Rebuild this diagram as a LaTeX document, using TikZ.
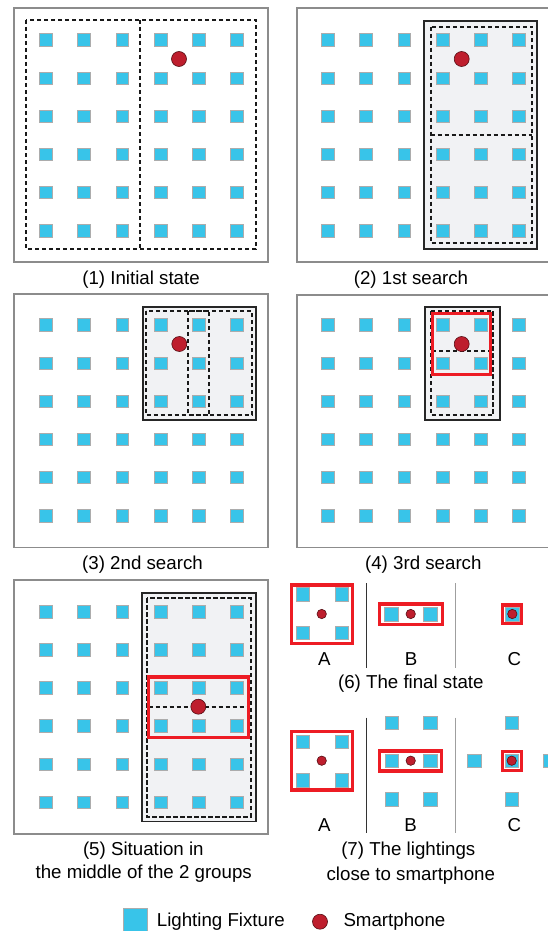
\documentclass[tikz,border=0pt]{standalone}
\usepackage{fontspec}
\setmainfont{Liberation Sans}
\usetikzlibrary{positioning}
\definecolor{lampblue}{RGB}{56,196,233}
\definecolor{phonered}{RGB}{190,30,45}
\definecolor{hitred}{RGB}{237,28,36}
\definecolor{roomgray}{RGB}{241,242,244}
\definecolor{framegray}{RGB}{140,140,140}

\tikzset{
  lamp/.style={rectangle, draw=gray!65, line width=0.5pt, fill=lampblue, minimum size=12.6pt, inner sep=0pt},
  biglamp/.style={lamp, minimum size=13.6pt},
  phone/.style={circle, draw=black!55!phonered, line width=0.6pt, fill=phonered, minimum size=15pt, inner sep=0pt},
  smallphone/.style={phone, minimum size=9.4pt},
  room/.style={draw=framegray, line width=1.8pt},
  group/.style={draw=black!85, line width=1.8pt, fill=roomgray},
  half/.style={draw=black!90, line width=1.7pt, dash pattern=on 4.2pt off 2.8pt},
  hit/.style={draw=hitred, line width=3.2pt},
  sep/.style={draw=black!80, line width=0.8pt},
  caption/.style={font=\fontsize{18.7}{22}\selectfont, anchor=base, inner sep=0pt},
}

% 6x6 grid of fixtures, #1 name, (#2,#3) first centre
\newcommand{\roomlamps}[3]{%
  \foreach \c in {0,...,5}
    \foreach \r in {0,...,5}
      \node[lamp] (#1-\c-\r) at ({#2+38.26*\c},{#3+38.1*\r}) {};
}

\begin{document}
\begin{tikzpicture}[x=1pt,y=-1pt]
  \clip (0,0) rectangle (548,931);

  % (1)
  \draw[room] (14,8) rectangle (268,262);
  \roomlamps{a}{45.7}{40}
  \draw[half] (26,20) rectangle (256,249) (140,20) -- (140,249);
  \node[phone] (p1) at (179,59) {};
  \node[caption] (cap1) at (141,284.5) {(1) Initial state};

  % (2)
  \draw[room] (296.6,8) rectangle (552,262);
  \draw[group] (424.2,21) rectangle (537,249);
  \roomlamps{b}{327.7}{40}
  \draw[half] (430.7,26.7) rectangle (532.3,242.7) (430.7,135) -- (532.3,135);
  \node[phone] (p2) at (461.7,59) {};
  \node[caption] (cap2) at (411,284.5) {(2) 1st search};

  % (3)
  \draw[room] (14,294.3) rectangle (268,547.4);
  \draw[group] (142.6,307) rectangle (255.8,420);
  \roomlamps{c}{45.7}{325}
  \draw[half] (145.7,311) rectangle (251.7,415);
  \draw[half] (188.3,311) rectangle (209.3,415);
  \node[phone] (p3) at (179.3,344) {};
  \node[caption] (cap3) at (142.5,569.3) {(3) 2nd search};

  % (4)
  \draw[room] (296.6,295) rectangle (552,547.4);
  \draw[group] (425.2,307) rectangle (499.8,420);
  \roomlamps{d}{327.7}{325}
  \draw[half] (430.7,311) rectangle (493.3,415) (432,350.7) -- (492,350.7);
  \draw[hit] (432.3,313.3) rectangle (490.7,374.4);
  \node[phone] (p4) at (461.7,344) {};
  \node[caption] (cap4) at (423.3,569.3) {(4) 3rd search};

  % (5)
  \draw[room] (14,580.3) rectangle (268,834);
  \draw[group] (142,592.6) rectangle (255.8,821.4);
  \roomlamps{e}{45.7}{611.7}
  \draw[half] (146.7,598.3) rectangle (250.7,816.7) (148.7,706.7) -- (248.3,706.7);
  \draw[hit] (148.3,677) rectangle (248.4,737.7);
  \node[phone] (p5) at (198.3,706.7) {};
  \node[caption] (cap5a) at (143.3,855.7) {(5) Situation in};
  \node[caption] (cap5b) at (143.7,878.3) {the middle of the 2 groups};

  % (6)
  \draw[sep] (366.7,583) -- (366.7,668.3);
  \draw[sep, draw=gray!75] (455.7,583) -- (455.7,668.3);
  \draw[hit] (291.6,585) rectangle (352.4,643.4);
  \draw[hit] (379.3,604) rectangle (442.7,624.4);
  \draw[hit] (502.3,605) rectangle (521.7,623.4);
  \foreach \x/\y [count=\i] in {302.7/594.3, 341.7/594.3, 302.7/632.7, 341.7/632.7, 391/614, 430/614, 512.3/614}
    \node[biglamp] (f-\i) at (\x,\y) {};
  \node[smallphone] (fA) at (321.7,614) {};
  \node[smallphone] (fB) at (410.7,614) {};
  \node[smallphone] (fC) at (512.3,614) {};
  \node[caption] (lfA) at (324.3,665) {A};
  \node[caption] (lfB) at (411,665) {B};
  \node[caption] (lfC) at (514.3,665) {C};
  \node[caption] (cap6) at (410.8,688.3) {(6) The final state};

  % (7)
  \draw[sep] (366.7,717.7) -- (366.7,833.3);
  \draw[sep, draw=gray!75] (455.7,717.7) -- (455.7,833.3);
  \draw[hit] (291.6,731.6) rectangle (352.4,790);
  \draw[hit] (379.3,751) rectangle (441.7,771);
  \draw[hit] (502.6,751.6) rectangle (521.7,770.7);
  \foreach \x/\y [count=\i] in {302.7/741.7, 341.7/741.7, 302.7/780, 341.7/780,
      391.7/722.7, 430/722.7, 391.7/760.7, 430/760.7, 391.7/799, 430/799,
      511.7/722.7, 474/760.7, 511.7/760.7, 550.5/760.7, 511.7/799}
    \node[biglamp] (g-\i) at (\x,\y) {};
  \node[smallphone] (gA) at (321.7,760.7) {};
  \node[smallphone] (gB) at (410.7,760.7) {};
  \node[smallphone] (gC) at (511.7,760.7) {};
  \node[caption] (lgA) at (324.3,831.7) {A};
  \node[caption] (lgB) at (410.7,831.7) {B};
  \node[caption] (lgC) at (514.3,831.7) {C};
  \node[caption] (cap7a) at (408.3,855.7) {(7) The lightings};
  \node[caption] (cap7b) at (410.8,880) {close to smartphone};

  % legend
  \node[lamp, minimum size=24pt] (keylamp) at (135,920) {};
  \node[caption, anchor=base west] (keylamptext) at (156.7,926.7) {Lighting Fixture};
  \node[phone] (keyphone) at (320,921.7) {};
  \node[caption, anchor=base west] (keyphonetext) at (343.3,926.7) {Smartphone};
\end{tikzpicture}
\end{document}
